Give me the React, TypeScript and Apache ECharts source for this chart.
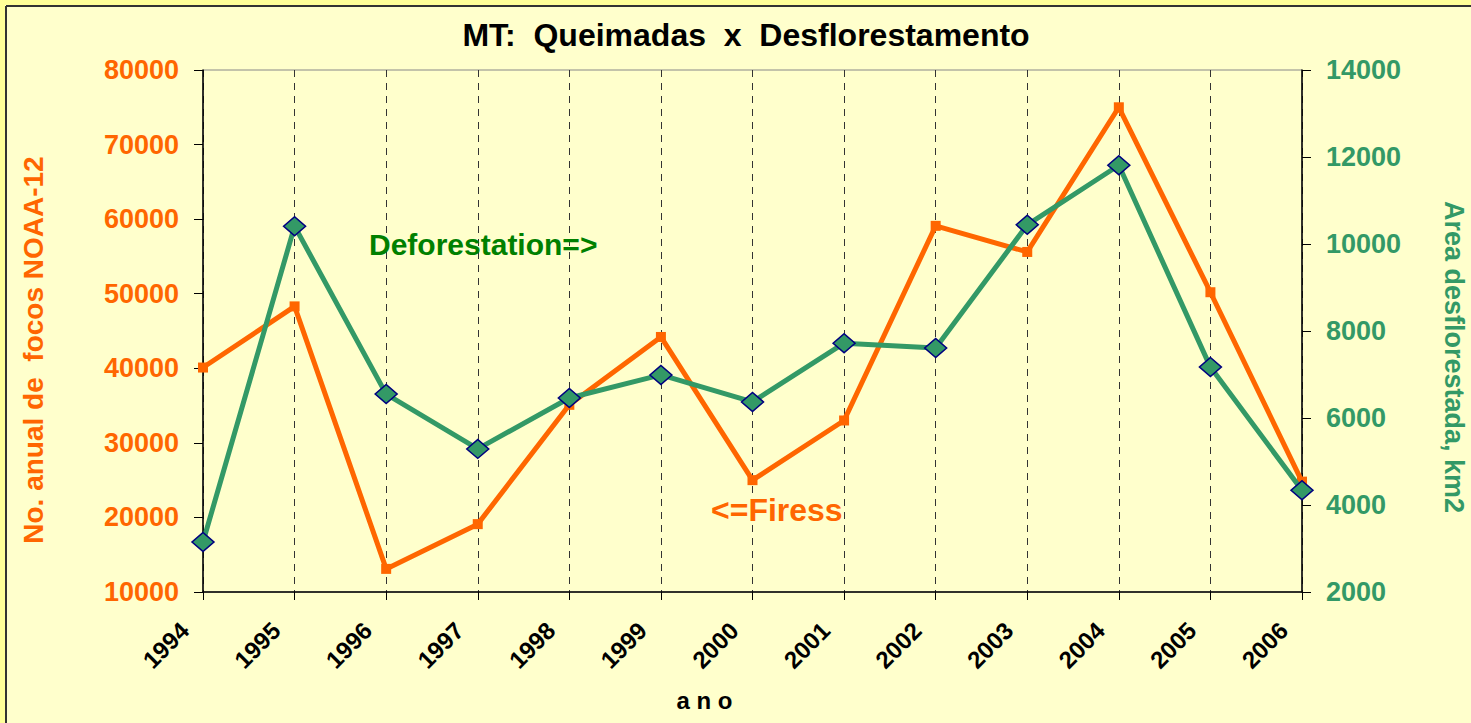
import React, { useEffect, useRef } from "react";
import * as echarts from "echarts";

const years = ["1994", "1995", "1996", "1997", "1998", "1999", "2000", "2001", "2002", "2003", "2004", "2005", "2006"];
const fires = [40100, 48300, 13100, 19100, 35100, 44200, 25000, 33000, 59100, 55600, 75000, 50200, 24800];
const deforestation = [3150, 10410, 6550, 5290, 6460, 6990, 6370, 7720, 7610, 10440, 11810, 7170, 4340];

const FONT = "'Liberation Sans', Arial, sans-serif";
const ORANGE = "#FF6600";
const GREEN = "#339966";

export default function App() {
  const ref = useRef<HTMLDivElement>(null);
  useEffect(() => {
    document.body.style.margin = "0";
    if (!ref.current) return;
    const chart = echarts.init(ref.current, null, { renderer: "svg" });
    chart.setOption({
      animation: false,
      backgroundColor: "#FFFFCC",
      title: {
        text: "MT:  Queimadas  x  Desflorestamento",
        left: 741,
        top: 14,
        textAlign: "center",
        textStyle: { fontFamily: FONT, fontWeight: "bold", fontSize: 32, color: "#000" },
      },
      grid: {
        left: 203,
        right: 169,
        top: 70,
        bottom: 131,
        show: true,
        borderColor: "#888",
        borderWidth: 1,
        backgroundColor: "transparent",
        containLabel: false,
        outerBoundsMode: "none",
      },
      xAxis: {
        type: "category",
        data: years,
        boundaryGap: false,
        name: "a n o",
        nameLocation: "middle",
        nameGap: 96,
        nameTextStyle: { fontFamily: FONT, fontWeight: "bold", fontSize: 24, color: "#000", padding: [0, 96, 0, 0] },
        axisLine: { lineStyle: { color: "#000", width: 1.5 } },
        axisTick: { show: true, length: 8, lineStyle: { color: "#000" } },
        axisLabel: {
          rotate: 45,
          margin: 16,
          padding: [0, 26, 0, 0],
          fontFamily: FONT,
          fontWeight: "bold",
          fontSize: 24,
          color: "#000",
        },
        splitLine: { show: true, lineStyle: { color: "#333", type: [7, 6], width: 1 } },
      },
      yAxis: [
        {
          type: "value",
          min: 10000,
          max: 80000,
          interval: 10000,
          position: "left",
          name: "No. anual de  focos NOAA-12",
          nameLocation: "middle",
          nameRotate: 90,
          nameGap: 156,
          nameTextStyle: { fontFamily: FONT, fontWeight: "bold", fontSize: 28, color: ORANGE, padding: [0, 38, 0, 0] },
          axisLine: { show: true, lineStyle: { color: "#000", width: 1.5 } },
          axisTick: { show: true, length: 9, lineStyle: { color: "#000" } },
          axisLabel: {
            margin: 24,
            fontFamily: FONT,
            fontWeight: "bold",
            fontSize: 27,
            color: ORANGE,
            formatter: (v: number) => String(v),
          },
          splitLine: { show: false },
        },
        {
          type: "value",
          min: 2000,
          max: 14000,
          interval: 2000,
          position: "right",
          name: "Area desflorestada, km2",
          nameLocation: "middle",
          nameRotate: -90,
          nameGap: 138,
          nameTextStyle: { fontFamily: FONT, fontWeight: "bold", fontSize: 27, color: GREEN, padding: [0, 0, 0, 52] },
          axisLine: { show: true, lineStyle: { color: "#000", width: 1.5 } },
          axisTick: { show: true, length: 9, lineStyle: { color: "#000" } },
          axisLabel: {
            margin: 24,
            fontFamily: FONT,
            fontWeight: "bold",
            fontSize: 27,
            color: GREEN,
            formatter: (v: number) => String(v),
          },
          splitLine: { show: false },
        },
      ],
      series: [
        {
          name: "Fires",
          type: "line",
          yAxisIndex: 0,
          data: fires,
          symbol: "rect",
          symbolSize: 10,
          lineStyle: { color: ORANGE, width: 5 },
          itemStyle: { color: ORANGE },
          z: 2,
        },
        {
          name: "Deforestation",
          type: "line",
          yAxisIndex: 1,
          data: deforestation,
          symbol: "diamond",
          symbolSize: [22, 19],
          lineStyle: { color: GREEN, width: 5 },
          itemStyle: { color: GREEN, borderColor: "#000080", borderWidth: 1.5 },
          z: 3,
        },
      ],
      graphic: [
        { type: "rect", shape: { x: 0, y: 0, width: 1471, height: 5 }, style: { fill: "#FFFF99" }, silent: true },
        { type: "rect", shape: { x: 0, y: 0, width: 5, height: 723 }, style: { fill: "#FFFF99" }, silent: true },
        { type: "line", shape: { x1: 6, y1: 6, x2: 1471, y2: 6 }, style: { stroke: "#333", lineWidth: 2 }, silent: true },
        { type: "line", shape: { x1: 6, y1: 6, x2: 6, y2: 723 }, style: { stroke: "#333", lineWidth: 2 }, silent: true },
        {
          type: "text",
          x: 369,
          y: 244,
          style: { text: "Deforestation=>", fill: "#008000", font: `bold 30px ${FONT}`, textVerticalAlign: "middle" },
          z: 10,
        },
        {
          type: "text",
          x: 711,
          y: 510,
          style: { text: "<=Firess", fill: ORANGE, font: `bold 32px ${FONT}`, textVerticalAlign: "middle" },
          z: 10,
        },
      ],
    });
    return () => chart.dispose();
  }, []);
  return <div ref={ref} style={{ width: 1471, height: 723 }} />;
}
